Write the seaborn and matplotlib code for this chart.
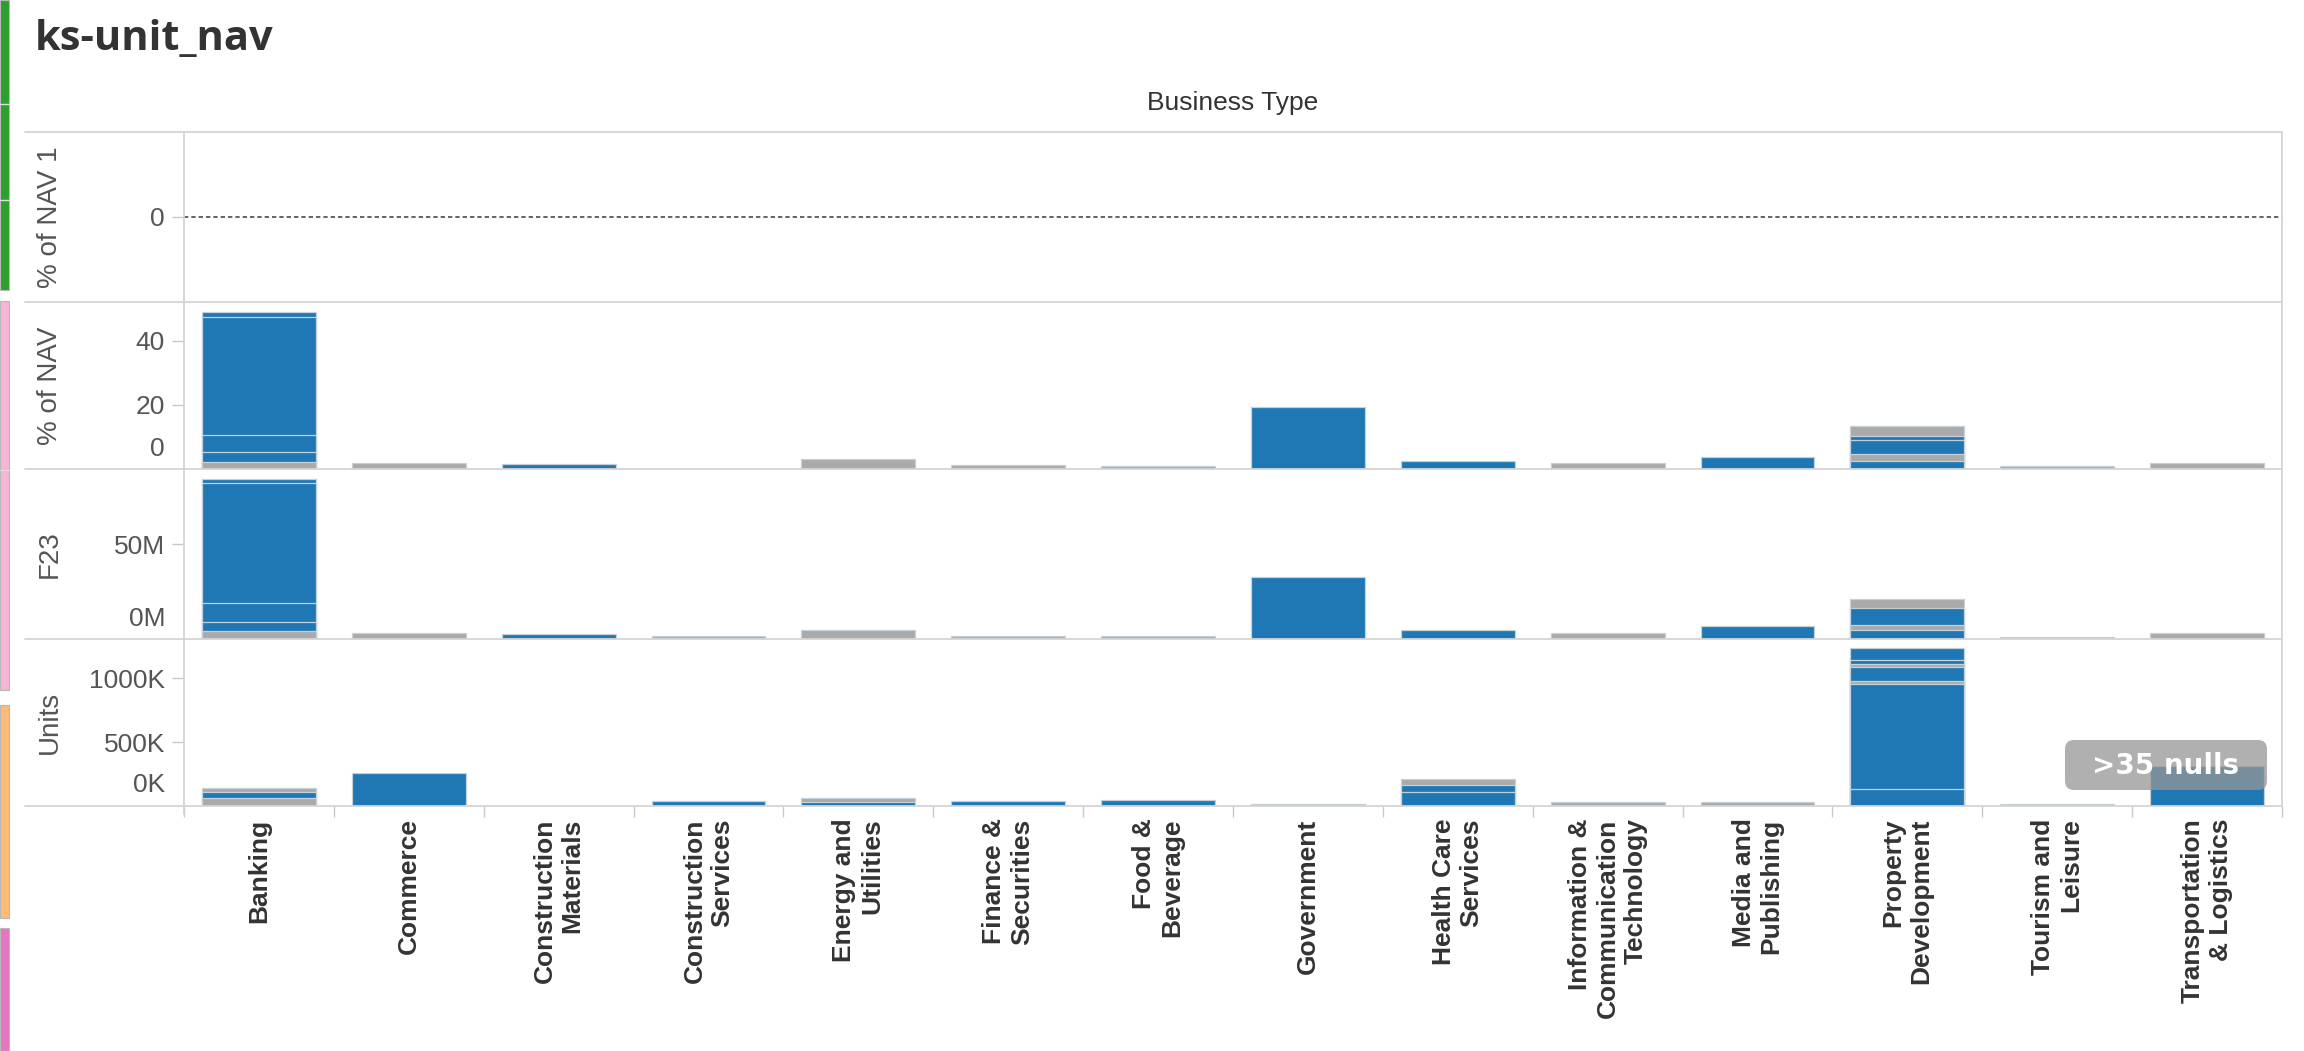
import numpy as np
import pandas as pd
import matplotlib
matplotlib.use("Agg")
import matplotlib.pyplot as plt
import seaborn as sns
from matplotlib.lines import Line2D
from matplotlib.patches import FancyBboxPatch, Rectangle
from matplotlib.transforms import ScaledTranslation, IdentityTransform

# ---------------- data ----------------
categories = ["Banking", "Commerce", "Construction\nMaterials", "Construction\nServices",
              "Energy and\nUtilities", "Finance &\nSecurities", "Food &\nBeverage", "Government",
              "Health Care\nServices", "Information &\nCommunication\nTechnology",
              "Media and\nPublishing", "Property\nDevelopment", "Tourism and\nLeisure",
              "Transportation\n& Logistics"]

# segments listed bottom -> top ; B = blue, G = grey
nav_values = [[2.2, 3.1, 5.3, 36.9, 1.6], [1.8], [1.7], [], [3.0], [1.2], [1.0], [19.4],
              [2.6], [1.8], [3.7], [2.5, 2.2, 4.4, 1.3, 3.1], [1.0], [1.8]]
nav_colors = [["G", "B", "B", "B", "B"], ["G"], ["B"], [], ["G"], ["G"], ["G"], ["B"],
              ["B"], ["G"], ["B"], ["B", "G", "B", "B", "G"], ["G"], ["G"]]

f23_values = [[4.2, 4.7, 10.0, 63.0, 2.1], [3.2], [2.8], [1.5], [5.0], [1.5], [1.5], [32.6],
              [4.5], [3.2], [7.0], [4.7, 2.6, 9.0, 4.7], [1.3], [3.0]]
f23_colors = [["G", "B", "B", "B", "B"], ["G"], ["B"], ["G"], ["G"], ["G"], ["G"], ["B"],
              ["B"], ["G"], ["B"], ["B", "G", "B", "G"], ["G"], ["G"]]

units_values = [[62, 47, 31], [255], [], [40], [31, 34], [38], [45], [18],
                [110, 55, 45], [28], [30], [133, 820, 26, 109, 20, 30, 94], [15], [310]]
units_colors = [["G", "B", "G"], ["B"], [], ["B"], ["B", "G"], ["B"], ["B"], ["G"],
                ["B", "B", "G"], ["G"], ["G"], ["B", "B", "G", "B", "G", "B", "B"], ["G"], ["B"]]

nav_ticks = [0, 20, 40]
nav_ticklabels = ["0", "20", "40"]
f23_ticks = [0, 50]
f23_ticklabels = ["0M", "50M"]
units_ticks = [0, 500, 1000]
units_ticklabels = ["0K", "500K", "1000K"]

# ---------------- style ----------------
sns.set_theme(style="white")
plt.rcParams["font.family"] = ["Liberation Sans", "DejaVu Sans"]

PALETTE = {"B": "#1f77b4", "G": "#aaaaaa"}
EDGE = "#c6d0d9"
LINE = "#d4d4d4"
TICKC = "#c8c8c8"
LABC = "#555555"

W, H = 2304, 1051
fig = plt.figure(figsize=(W / 100, H / 100), dpi=100)
fig.patch.set_facecolor("white")


def fx(px):
    return px / W


def fy(py):
    return 1 - py / H


X0, X1 = 184, 2282
panels = [(132, 302), (302, 469), (469, 639), (639, 806)]
ylims = [(-1, 1), (0, (469 - 302) / 3.2), (0, (639 - 469) / 1.9), (0, (806 - 639) * 7.8125)]

axes = []
for (top, bot), yl in zip(panels, ylims):
    ax = fig.add_axes([fx(X0), fy(bot), (X1 - X0) / W, (bot - top) / H])
    ax.set_facecolor("none")
    axes.append(ax)


def stacked(ax, values, colors):
    rows = []
    for cat, vals, cols in zip(categories, values, colors):
        cum = np.cumsum(vals)
        for k, (tp, c) in enumerate(zip(cum, cols)):
            rows.append(dict(cat=cat, layer=k, top=tp, color=c))
    df = pd.DataFrame(rows)
    for k in sorted(df["layer"].unique(), reverse=True):
        sub = df[df["layer"] == k]
        sns.barplot(data=sub, x="cat", y="top", hue="color", order=categories,
                    hue_order=["B", "G"], palette=PALETTE, dodge=False, width=0.76,
                    edgecolor=EDGE, linewidth=0.9, errorbar=None, legend=False,
                    saturation=1, ax=ax)


stacked(axes[1], nav_values, nav_colors)
stacked(axes[2], f23_values, f23_colors)
stacked(axes[3], units_values, units_colors)

axes[0].axhline(0, color="#4a4a4a", lw=1.2, ls=(0, (2.6, 1.8)))

tick_sets = [([0], ["0"]), (nav_ticks, nav_ticklabels), (f23_ticks, f23_ticklabels),
             (units_ticks, units_ticklabels)]
titles = ["% of NAV 1", "% of NAV", "F23", "Units"]

for i, (ax, yl, (tk, tl), (top, bot), ttl) in enumerate(zip(axes, ylims, tick_sets, panels, titles)):
    ax.set_xlim(-0.5, 13.5)
    ax.set_ylim(*yl)
    for s in ax.spines.values():
        s.set_visible(False)
    ax.set_xlabel("")
    ax.set_ylabel("")
    ax.set_yticks(tk)
    ax.set_yticklabels(tl)
    ax.tick_params(axis="y", length=8.6, width=1, color=TICKC, pad=5, labelsize=19,
                   labelcolor=LABC, left=True)
    if i > 0:
        t0 = ax.yaxis.get_major_ticks()[0]
        t0.tick1line.set_visible(False)
        t0.label1.set_transform(t0.label1.get_transform() +
                                ScaledTranslation(0, 23 / 100, fig.dpi_scale_trans))
    fig.text(fx(50), fy((top + bot) / 2), ttl, rotation=90, ha="center", va="center",
             fontsize=20, color=LABC)
    if i < 3:
        ax.set_xticks([])
    ax.grid(False)

ax4 = axes[3]
ax4.set_xticks(range(len(categories)))
ax4.set_xticklabels(categories, rotation=90, ha="center", va="top", multialignment="right",
                    fontsize=19, fontweight="bold", color="#333333")
ax4.set_xticks(np.arange(-0.5, len(categories), 1.0), minor=True)
ax4.tick_params(axis="x", which="major", length=0, pad=9, bottom=True)
ax4.tick_params(axis="x", which="minor", length=8, width=1, color=TICKC, bottom=True)

# frame / separator lines
for y in [132, 302, 469, 639, 806]:
    fig.add_artist(Line2D([fx(25), fx(X1)], [fy(y), fy(y)], color=LINE, lw=1.3,
                          transform=fig.transFigure))
fig.add_artist(Line2D([fx(X0), fx(X0)], [fy(132), fy(814)], color=LINE, lw=1.3,
                      transform=fig.transFigure))
fig.add_artist(Line2D([fx(X1), fx(X1)], [fy(132), fy(806)], color=LINE, lw=1.3,
                      transform=fig.transFigure))

# header texts
fig.text(fx(35), fy(50), "ks-unit_nav", fontsize=30, fontweight="bold",
         family=["Open Sans", "DejaVu Sans"], color="#333333", ha="left", va="baseline")
fig.text(fx((X0 + X1) / 2), fy(103), "Business Type", fontsize=19, color="#333333",
         ha="center", va="center")

# left dashboard strips
strips = [(0, 290, "#2ca02c"), (301, 690, "#f5b5d3"), (705, 918, "#fdbb78"), (928, 1051, "#e377c2")]
for y0, y1, c in strips:
    fig.add_artist(Rectangle((0, fy(y1)), fx(9), (y1 - y0) / H, facecolor=c,
                             edgecolor="#b8b8b8", lw=0.8, transform=fig.transFigure))
for y in [104, 200, 470]:
    fig.add_artist(Line2D([0, fx(9)], [fy(y), fy(y)], color="#dddddd", lw=1,
                          transform=fig.transFigure))

# null indicator badge (pixel coordinates)
badge = FancyBboxPatch((2065, H - 790), 202, 50, boxstyle="round,pad=0,rounding_size=9",
                       facecolor="#969696", edgecolor="none", alpha=0.75,
                       transform=IdentityTransform())
fig.add_artist(badge)
fig.text(fx(2166), fy(766), ">35 nulls", color="white", fontsize=20, fontweight="bold",
         family=["DejaVu Sans"], ha="center", va="center")

fig.savefig("out.png", dpi=100, facecolor="white")
